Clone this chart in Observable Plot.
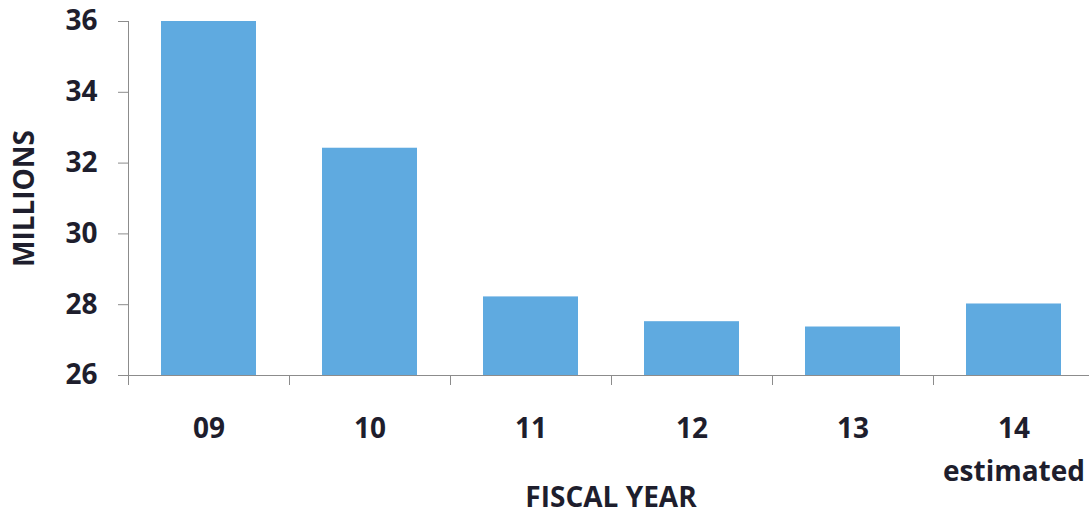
<!DOCTYPE html>
<html>
<head>
<meta charset="utf-8">
<script src="https://cdn.jsdelivr.net/npm/d3@7"></script>
<script src="https://cdn.jsdelivr.net/npm/@observablehq/plot@0.6"></script>
<style>
  html, body { margin: 0; padding: 0; background: #fff; }
  #chart svg { display: block; }
</style>
</head>
<body>
<div id="chart"></div>
<script>
const years = ["09", "10", "11", "12", "13", "14"];
const millions = [36.0, 32.42, 28.22, 27.52, 27.37, 28.02];
const notes = ["", "", "", "", "", "estimated"];
const yTicks = [26, 28, 30, 32, 34, 36];
const yDomain = [26, 36];
const yLabel = "MILLIONS";
const xLabel = "FISCAL YEAR";

const rows = years.map((y, i) => ({year: y, value: millions[i], note: notes[i]}));

const W = 1089, H = 514;
const mLeft = 128, mTop = 21, mBottom = 139;
const step = 161;            // band step in pixels
const half = step / 2;
const textColor = "#1e1e2d";
const axisColor = "#8c8c8c";
const font = "'Open Sans', sans-serif";

const chart = Plot.plot({
  width: W,
  height: H,
  marginLeft: mLeft,
  marginRight: 0,
  marginTop: mTop,
  marginBottom: mBottom,
  style: {fontFamily: font, color: textColor, background: "#fff"},
  x: {domain: years, range: [mLeft, mLeft + step * years.length], paddingInner: 0.41, paddingOuter: 0.205, axis: null},
  y: {domain: yDomain, axis: null},
  marks: [
    Plot.barY(rows, {x: "year", y1: yDomain[0], y2: "value", fill: "#5faae0"}),
    // y axis
    Plot.axisY({ticks: yTicks, tickSize: 10, tickPadding: 21, fontSize: 28, fontWeight: "bold", stroke: axisColor, fill: textColor, label: null}),
    // left axis line
    Plot.ruleX([years[0]], {x: d => d, dx: -half, stroke: axisColor}),
    // bottom axis line
    Plot.ruleY([yDomain[0]], {stroke: axisColor}),
    // x boundary ticks
    Plot.axisX({ticks: years, tickSize: 10, tickFormat: () => "", dx: -half, stroke: axisColor, label: null}),
    // x tick labels
    Plot.axisX({ticks: years, tickSize: 0, tickPadding: 43, fontSize: 28, fontWeight: "bold", fill: textColor, label: null}),
    // notes under labels
    Plot.text(rows, {x: "year", text: "note", frameAnchor: "bottom", dy: 105, lineAnchor: "bottom", fontSize: 28, fontWeight: "bold", fill: textColor}),
    // x axis title
    Plot.text([xLabel], {text: d => d, frameAnchor: "bottom", dx: 2, dy: 131, lineAnchor: "bottom", fontSize: 28, fontWeight: "bold", fill: textColor}),
    // y axis title
    Plot.text([yLabel], {text: d => d, frameAnchor: "left", rotate: -90, dx: -103.5, textAnchor: "middle", lineAnchor: "middle", fontSize: 28, fontWeight: "bold", fill: textColor})
  ]
});
document.getElementById("chart").appendChild(chart);
</script>
</body>
</html>
